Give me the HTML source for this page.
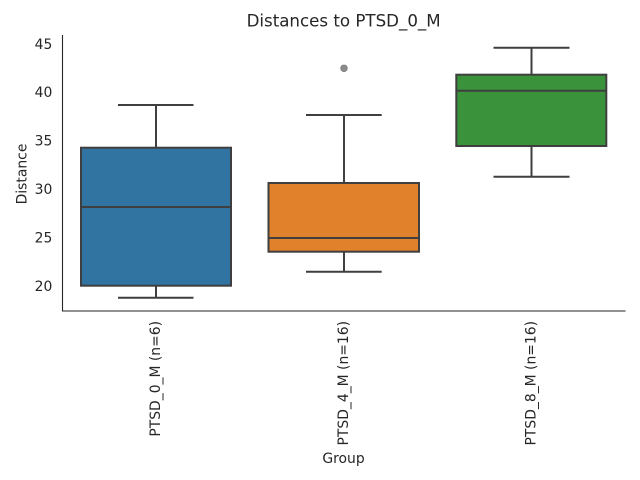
<!DOCTYPE html>
<html><head><meta charset="utf-8"><style>
html,body{margin:0;padding:0;background:#fff;}
svg{display:block;}
text{font-family:"DejaVu Sans","Liberation Sans",sans-serif;fill:#262626;}
</style></head><body>
<svg width="640" height="480" viewBox="0 0 640 480" xmlns="http://www.w3.org/2000/svg">
<rect width="640" height="480" fill="#fff"/>
<text x="343.6" y="26.5" font-size="16.67" text-anchor="middle">Distances to PTSD_0_M</text>
<!-- y ticks -->
<g font-size="13.9" text-anchor="end">
<text x="52.3" y="48.8">45</text>
<text x="52.3" y="97.2">40</text>
<text x="52.3" y="145.6">35</text>
<text x="52.3" y="194">30</text>
<text x="52.3" y="242.4">25</text>
<text x="52.3" y="290.8">20</text>
</g>
<text transform="translate(26.5,174) rotate(-90)" font-size="13.9" text-anchor="middle">Distance</text>
<!-- boxes -->
<g stroke="#3f3f3f" stroke-width="2" fill="none">
<!-- box1 -->
<line x1="156" y1="105" x2="156" y2="147.7"/>
<line x1="156" y1="285.7" x2="156" y2="297.7"/>
<line x1="118" y1="105" x2="193.5" y2="105"/>
<line x1="118" y1="297.7" x2="193.5" y2="297.7"/>
<rect x="81" y="147.7" width="150" height="138" fill="#3274a1"/>
<line x1="81" y1="207" x2="231" y2="207"/>
<!-- box2 -->
<line x1="344" y1="115" x2="344" y2="183"/>
<line x1="344" y1="251.7" x2="344" y2="271.7"/>
<line x1="306" y1="115" x2="381.7" y2="115"/>
<line x1="306" y1="271.7" x2="381.7" y2="271.7"/>
<rect x="268.5" y="183" width="150.5" height="68.7" fill="#e1812c"/>
<line x1="268.5" y1="238" x2="419" y2="238"/>
<!-- box3 -->
<line x1="531.5" y1="47.7" x2="531.5" y2="74.7"/>
<line x1="531.5" y1="146" x2="531.5" y2="176.7"/>
<line x1="493.5" y1="47.7" x2="569.5" y2="47.7"/>
<line x1="493.5" y1="176.7" x2="569.5" y2="176.7"/>
<rect x="456.3" y="74.7" width="150" height="71.3" fill="#3a923a"/>
<line x1="456.3" y1="90.7" x2="606.3" y2="90.7"/>
</g>
<circle cx="344" cy="68.3" r="3.3" fill="#8c8c8c" stroke="#777" stroke-width="0.8"/>
<!-- spines -->
<line x1="62.5" y1="35" x2="62.5" y2="311.5" stroke="#262626" stroke-width="1.1"/>
<line x1="62" y1="311" x2="625.6" y2="311" stroke="#262626" stroke-width="1.1"/>
<!-- x tick labels -->
<g font-size="13.9" text-anchor="end">
<text transform="translate(155.9,321) rotate(-90)" dominant-baseline="central">PTSD_0_M (n=6)</text>
<text transform="translate(343.8,321) rotate(-90)" dominant-baseline="central">PTSD_4_M (n=16)</text>
<text transform="translate(531.7,321) rotate(-90)" dominant-baseline="central">PTSD_8_M (n=16)</text>
</g>
<text x="343.5" y="463" font-size="13.9" text-anchor="middle">Group</text>
</svg>
</body></html>
